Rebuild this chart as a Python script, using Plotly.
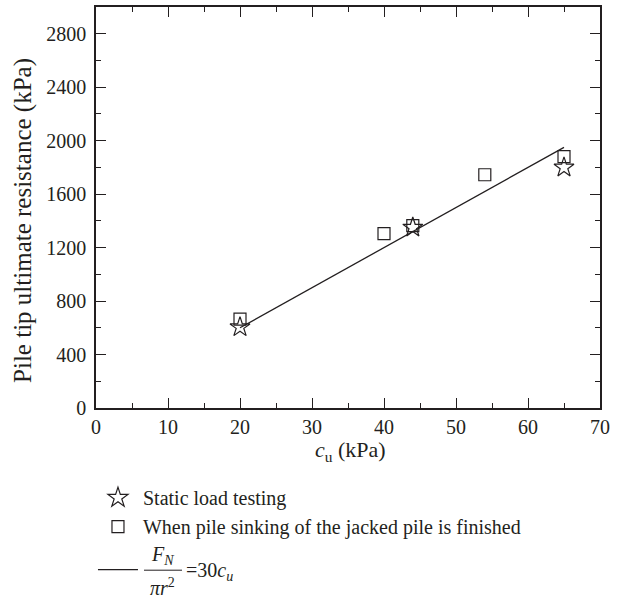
import plotly.graph_objects as go

# Data
static_cu = [20, 44, 65]
static_q = [605, 1350, 1800]
jacked_cu = [20, 40, 44, 54, 65]
jacked_q = [665, 1305, 1365, 1745, 1880]
fit_cu = [20, 65]
fit_coef = 30
fit_q = [fit_coef * c for c in fit_cu]

FONT = "Liberation Serif"
INK = "#231f20"

fig = go.Figure()
fig.add_trace(go.Scatter(
    x=static_cu, y=static_q, mode="markers", name="Static load testing",
    marker=dict(symbol="star-open", size=15, color=INK, line=dict(width=1.2, color=INK)),
    legendgroup="a"))
fig.add_trace(go.Scatter(
    x=jacked_cu, y=jacked_q, mode="markers",
    name="When pile sinking of the jacked pile is finished",
    marker=dict(symbol="square-open", size=12, color=INK, line=dict(width=1.2, color=INK)),
    legendgroup="a"))
fig.add_trace(go.Scatter(
    x=fit_cu, y=fit_q, mode="lines", name=" ",
    line=dict(color=INK, width=1.3), legendgroup="b"))

axis_common = dict(
    showline=True, linecolor=INK, linewidth=1.5, mirror="allticks",
    ticks="inside", ticklen=10, tickwidth=1.3, tickcolor=INK,
    showgrid=False, zeroline=False,
    tickfont=dict(family=FONT, size=20, color=INK),
)

fig.update_layout(
    width=619, height=599,
    margin=dict(l=96, r=19, t=5, b=191),
    plot_bgcolor="white", paper_bgcolor="white",
    font=dict(family=FONT, color=INK, size=20),
    xaxis=dict(range=[0, 70], dtick=10,
               minor=dict(dtick=5, ticks="inside", ticklen=5, tickwidth=1.3, tickcolor=INK),
               **axis_common),
    yaxis=dict(range=[0, 3000], dtick=400, ticklabelstandoff=4,
               minor=dict(dtick=200, ticks="inside", ticklen=5, tickwidth=1.3, tickcolor=INK),
               **axis_common),
    legend=dict(x=-0.006, y=-0.175, xanchor="left", yanchor="top",
                font=dict(family=FONT, size=20, color=INK),
                tracegroupgap=14, traceorder="grouped", itemwidth=40,
                bgcolor="rgba(0,0,0,0)"),
    showlegend=True,
)

# Axis titles
fig.add_annotation(xref="paper", yref="paper", x=(350 - 96) / 504, y=(408 - 451) / 403,
                   text="<i>c</i><sub>u</sub> (kPa)", showarrow=False,
                   font=dict(family=FONT, size=22, color=INK), xanchor="center", yanchor="middle")
fig.add_annotation(xref="paper", yref="paper", x=(23 - 96) / 504, y=(408 - 220) / 403,
                   text="Pile tip ultimate resistance (kPa)", showarrow=False, textangle=-90,
                   font=dict(family=FONT, size=25, color=INK), xanchor="center", yanchor="middle")

# Formula label of the fitted line (legend text)
fig.add_annotation(xref="paper", yref="paper", x=(162 - 96) / 504, y=(408 - 556) / 403,
                   text="<i>F<sub>N</sub></i>", showarrow=False,
                   font=dict(family=FONT, size=20, color=INK), xanchor="center", yanchor="middle")
fig.add_annotation(xref="paper", yref="paper", x=(162 - 96) / 504, y=(408 - 588) / 403,
                   text="<i>πr</i><sup>2</sup>", showarrow=False,
                   font=dict(family=FONT, size=20, color=INK), xanchor="center", yanchor="middle")
fig.add_annotation(xref="paper", yref="paper", x=(184 - 96) / 504, y=(408 - 572) / 403,
                   text="=30<i>c<sub>u</sub></i>", showarrow=False,
                   font=dict(family=FONT, size=20, color=INK), xanchor="left", yanchor="middle")
fig.add_shape(type="line", xref="paper", yref="paper",
              x0=(144 - 96) / 504, x1=(182 - 96) / 504,
              y0=(408 - 571) / 403, y1=(408 - 571) / 403,
              line=dict(color=INK, width=1))

fig.write_html("out.html")
